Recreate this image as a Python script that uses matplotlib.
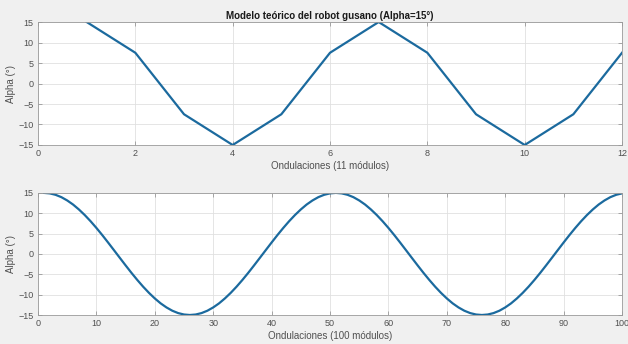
import numpy as np
import matplotlib.pyplot as plt

plt.rcParams['font.family'] = ['Liberation Sans', 'DejaVu Sans']

# Top plot: 11 modules
x_top = [1, 2, 3, 4, 5, 6, 7, 8, 9, 10, 11, 12]
alpha_top = [15, 7.5, -7.5, -15, -7.5, 7.5, 15, 7.5, -7.5, -15, -7.5, 7.5]

# Bottom plot: 100 modules
x_bottom = list(range(1, 101))
half_period = [15.0, 14.88, 14.53, 13.95, 13.14, 12.14, 10.93, 9.56, 8.04, 6.39,
               4.64, 2.81, 0.94, -0.94, -2.81, -4.64, -6.39, -8.04, -9.56, -10.93,
               -12.14, -13.14, -13.95, -14.53, -14.88, -15.0, -14.88, -14.53, -13.95, -13.14,
               -12.14, -10.93, -9.56, -8.04, -6.39, -4.64, -2.81, -0.94, 0.94, 2.81,
               4.64, 6.39, 8.04, 9.56, 10.93, 12.14, 13.14, 13.95, 14.53, 14.88]
alpha_bottom = half_period + half_period

line_color = '#1b6a9e'
bg = '#f0f0f0'

fig = plt.figure(figsize=(6.28, 3.44), dpi=100, facecolor=bg)
ax1 = fig.add_axes([0.0605, 0.5785, 0.930, 0.3575])
ax2 = fig.add_axes([0.0605, 0.0843, 0.930, 0.355])


def style(ax, xlim, xticks, xlabel):
    ax.set_xlim(xlim)
    ax.set_ylim(-15, 15)
    ax.set_xticks(xticks)
    ax.set_yticks([-15, -10, -5, 0, 5, 10, 15])
    ax.grid(True, color='#e0e0e0', linewidth=0.6)
    ax.set_axisbelow(True)
    ax.tick_params(direction='in', length=3, width=0.5, colors='#8a8a8a',
                   labelsize=6.5, labelcolor='#505050', top=True, right=True, pad=3)
    for s in ax.spines.values():
        s.set_color('#9a9a9a')
        s.set_linewidth(0.6)
    ax.set_xlabel(xlabel, fontsize=7, color='#505050', labelpad=2)
    ax.set_ylabel('Alpha (°)', fontsize=7, color='#505050', labelpad=2)


ax1.plot(x_top, alpha_top, color=line_color, linewidth=1.6)
style(ax1, (0, 12), [0, 2, 4, 6, 8, 10, 12], 'Ondulaciones (11 módulos)')
ax1.set_title('Modelo teórico del robot gusano (Alpha=15°)', fontsize=7,
              fontweight='bold', pad=2, color='#1a1a1a')

ax2.plot(x_bottom, alpha_bottom, color=line_color, linewidth=1.6)
style(ax2, (0, 100), list(range(0, 101, 10)), 'Ondulaciones (100 módulos)')

fig.savefig('out.png', dpi=100, facecolor=bg)
